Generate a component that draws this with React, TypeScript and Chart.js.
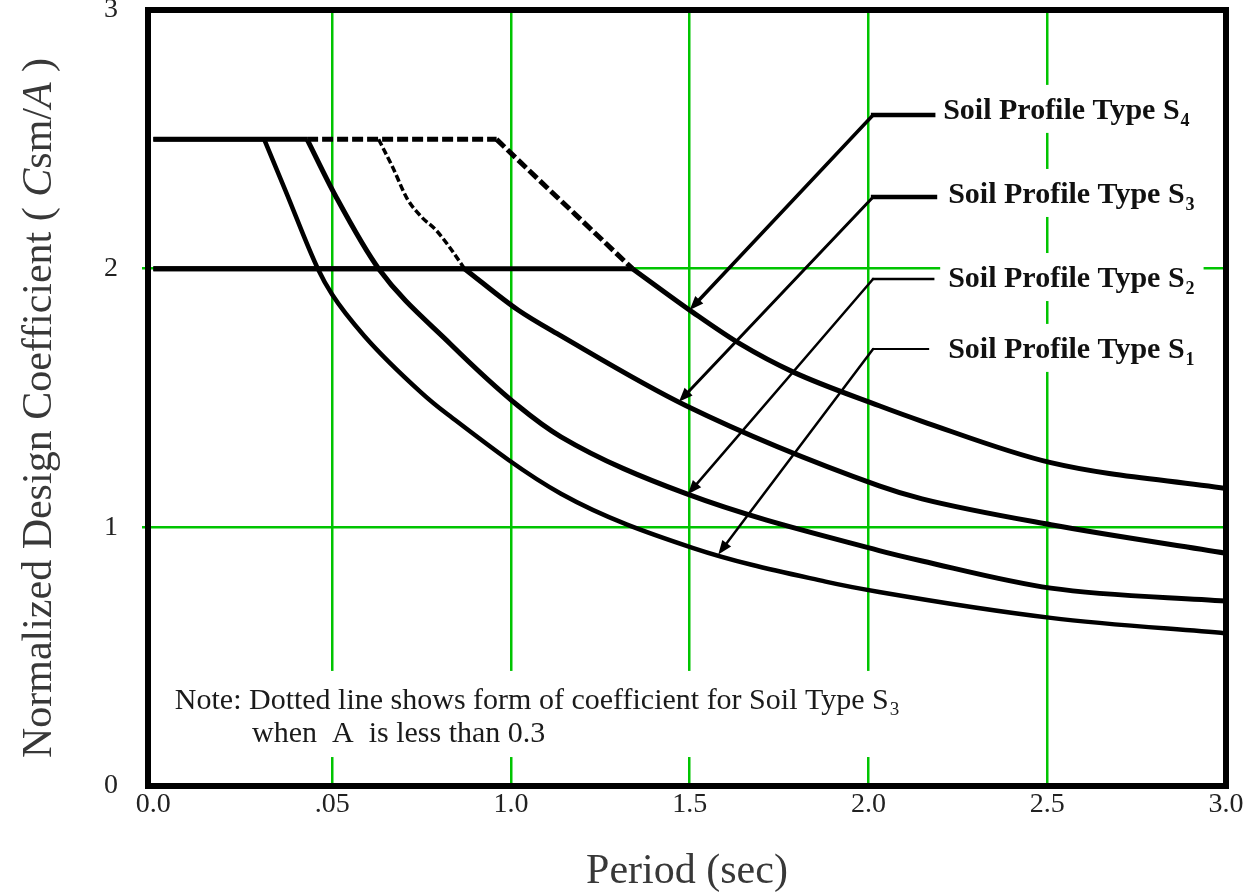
import React, { useEffect, useRef } from "react";
import { Chart, registerables } from "chart.js";

Chart.register(...registerables);

const SERIF = "'Liberation Serif', 'Times New Roman', Times, serif";
const GRID_GREEN = "#00c400";

// Axis ticks
const periodTicks = [0, 0.5, 1.0, 1.5, 2.0, 2.5, 3.0];
const periodTickLabels = ["0.0", ".05", "1.0", "1.5", "2.0", "2.5", "3.0"];
const coefTicks = [0, 1, 2, 3];

// Soil Profile Type S1
const periodS1 = [0, 0.31, 0.37, 0.46, 0.5, 0.59, 0.75, 0.82, 1.14, 1.51, 1.88, 2.03, 2.51, 3.0];
const coefS1 = [2.5, 2.5, 2.3, 2.0, 1.9, 1.74, 1.52, 1.44, 1.13, 0.92, 0.79, 0.75, 0.65, 0.59];

// Soil Profile Type S2
const periodS2 = [0, 0.43, 0.51, 0.63, 0.83, 1.02, 1.14, 1.49, 2.03, 2.15, 2.51, 3.0];
const coefS2 = [2.5, 2.5, 2.28, 2.0, 1.71, 1.47, 1.35, 1.13, 0.91, 0.87, 0.765, 0.715];

// Soil Profile Type S3 (capped at 2.0)
const periodS3 = [0, 0.87, 1.02, 1.14, 1.49, 2.03, 2.15, 2.51, 3.0];
const coefS3 = [2.0, 2.0, 1.84, 1.74, 1.47, 1.16, 1.11, 1.01, 0.9];

// Soil Profile Type S4 (capped at 2.0)
const periodS4 = [0, 1.34, 1.51, 1.64, 1.79, 2.03, 2.15, 2.51, 3.0];
const coefS4 = [2.0, 2.0, 1.83, 1.71, 1.6, 1.47, 1.41, 1.25, 1.15];

// Dotted forms (cap of 2.5 instead of 2.0)
const periodS3Dotted = [0.63, 0.67, 0.71, 0.75, 0.79, 0.83, 0.87];
const coefS3Dotted = [2.5, 2.39, 2.27, 2.2, 2.15, 2.08, 2.0];
const periodS4Dotted = [0.43, 0.96, 1.02, 1.18, 1.34];
const coefS4Dotted = [2.5, 2.5, 2.42, 2.21, 2.0];

const SOIL_LABEL = "Soil Profile Type S";

// Callout placement (data units): arrow tip period, leader corner, shelf end, text origin
const callouts = [
  { sub: "4", xs: periodS4, ys: coefS4, tip: 1.5, corner: [2.013, 2.594], shelfEnd: 2.181, text: [2.209, 2.579], diagW: 3.5, shelfW: 4.5 },
  { sub: "3", xs: periodS3, ys: coefS3, tip: 1.47, corner: [2.013, 2.277], shelfEnd: 2.186, text: [2.223, 2.254], diagW: 3, shelfW: 4.5 },
  { sub: "2", xs: periodS2, ys: coefS2, tip: 1.495, corner: [2.013, 1.96], shelfEnd: 2.181, text: [2.223, 1.929], diagW: 2.5, shelfW: 2.5 },
  { sub: "1", xs: periodS1, ys: coefS1, tip: 1.58, corner: [2.013, 1.689], shelfEnd: 2.167, text: [2.223, 1.655], diagW: 2.5, shelfW: 2 },
];

const noteLines = [
  { text: "Note: Dotted line shows form of coefficient for Soil Type S", sub: "3", at: [0.06, 0.298] },
  { text: "when  A  is less than 0.3", sub: "", at: [0.276, 0.17] },
];

const yTitleParts = [
  { t: "Normalized Design Coefficient ( ", italic: false },
  { t: "C", italic: true },
  { t: "sm/", italic: false },
  { t: "A", italic: true },
  { t: " )", italic: false },
];
const xTitle = "Period (sec)";

const pairs = (xs: number[], ys: number[]) => xs.map((x, i) => ({ x, y: ys[i] }));

function valueAt(xs: number[], ys: number[], x: number) {
  for (let i = 1; i < xs.length; i++) {
    if (x <= xs[i]) {
      const t = (x - xs[i - 1]) / (xs[i] - xs[i - 1]);
      return ys[i - 1] + t * (ys[i] - ys[i - 1]);
    }
  }
  return ys[ys.length - 1];
}

const overlayPlugin = {
  id: "designOverlay",
  afterDatasetsDraw(chart: any) {
    const { ctx } = chart;
    const sx = chart.scales.x;
    const sy = chart.scales.y;
    const px = (v: number) => sx.getPixelForValue(v);
    const py = (v: number) => sy.getPixelForValue(v);
    ctx.save();

    // Note block on a white plate
    const noteFont = `30px ${SERIF}`;
    const noteSub = `19px ${SERIF}`;
    ctx.font = noteFont;
    const n0 = noteLines[0];
    const n1 = noteLines[1];
    const w0 = ctx.measureText(n0.text).width;
    ctx.font = noteSub;
    const ws0 = ctx.measureText(n0.sub).width;
    const nx = px(n0.at[0]);
    const ny0 = py(n0.at[1]);
    const ny1 = py(n1.at[1]);
    ctx.fillStyle = "#fff";
    ctx.fillRect(nx - 8, ny0 - 38, w0 + ws0 + 20, ny1 - ny0 + 53);
    ctx.fillStyle = "#1a1a1a";
    ctx.textAlign = "left";
    ctx.textBaseline = "alphabetic";
    ctx.font = noteFont;
    ctx.fillText(n0.text, nx, ny0);
    ctx.fillText(n1.text, px(n1.at[0]), ny1);
    ctx.font = noteSub;
    ctx.fillText(n0.sub, nx + w0 + 1, ny0 + 6);

    // Callouts
    callouts.forEach((c) => {
      const tx = px(c.tip);
      const ty = py(valueAt(c.xs, c.ys, c.tip));
      const cx = px(c.corner[0]);
      const cy = py(c.corner[1]);
      const ex = px(c.shelfEnd);
      const lx = px(c.text[0]);
      const ly = py(c.text[1]);

      ctx.font = `bold 30px ${SERIF}`;
      const mainW = ctx.measureText(SOIL_LABEL).width;
      ctx.font = `bold 18px ${SERIF}`;
      const subW = ctx.measureText(c.sub).width;
      ctx.fillStyle = "#fff";
      ctx.fillRect(lx - 8, ly - 34, mainW + subW + 18, 48);

      ctx.strokeStyle = "#000";
      ctx.fillStyle = "#000";
      ctx.lineCap = "square";
      ctx.lineWidth = c.shelfW;
      ctx.beginPath();
      ctx.moveTo(cx, cy);
      ctx.lineTo(ex, cy);
      ctx.stroke();

      const dx = tx - cx;
      const dy = ty - cy;
      const len = Math.hypot(dx, dy);
      const ux = dx / len;
      const uy = dy / len;
      const head = 14;
      const half = 5.5;
      const bx = tx - ux * head;
      const by = ty - uy * head;
      ctx.lineCap = "round";
      ctx.lineWidth = c.diagW;
      ctx.beginPath();
      ctx.moveTo(cx, cy);
      ctx.lineTo(bx + ux * 2, by + uy * 2);
      ctx.stroke();
      ctx.beginPath();
      ctx.moveTo(tx, ty);
      ctx.lineTo(bx - uy * half, by + ux * half);
      ctx.lineTo(bx + uy * half, by - ux * half);
      ctx.closePath();
      ctx.fill();

      ctx.fillStyle = "#111";
      ctx.textAlign = "left";
      ctx.textBaseline = "alphabetic";
      ctx.font = `bold 30px ${SERIF}`;
      ctx.fillText(SOIL_LABEL, lx, ly);
      ctx.font = `bold 18px ${SERIF}`;
      ctx.fillText(c.sub, lx + mainW + 1, ly + 7);
    });
    ctx.restore();
  },
  afterDraw(chart: any) {
    const { ctx, chartArea } = chart;
    ctx.save();
    // Heavy frame around the plotting area
    ctx.strokeStyle = "#000";
    ctx.lineWidth = 6;
    ctx.lineJoin = "miter";
    ctx.strokeRect(chartArea.left, chartArea.top, chartArea.right - chartArea.left, chartArea.bottom - chartArea.top);

    // X axis title
    ctx.fillStyle = "#383838";
    ctx.textAlign = "center";
    ctx.textBaseline = "alphabetic";
    ctx.font = `42px ${SERIF}`;
    ctx.fillText(xTitle, (chartArea.left + chartArea.right) / 2, 883);

    // Y axis title with italic symbols
    const fontFor = (italic: boolean) => `${italic ? "italic " : ""}42px ${SERIF}`;
    let total = 0;
    const widths = yTitleParts.map((p) => {
      ctx.font = fontFor(p.italic);
      const w = ctx.measureText(p.t).width;
      total += w;
      return w;
    });
    ctx.translate(51, 408);
    ctx.rotate(-Math.PI / 2);
    ctx.textAlign = "left";
    let x = -total / 2;
    yTitleParts.forEach((p, i) => {
      ctx.font = fontFor(p.italic);
      ctx.fillText(p.t, x, 0);
      x += widths[i];
    });
    ctx.restore();
  },
};

export default function App() {
  const canvasRef = useRef<HTMLCanvasElement | null>(null);

  useEffect(() => {
    const canvas = canvasRef.current;
    if (!canvas) return;

    const line = (label: string, xs: number[], ys: number[], width: number, dash: number[] = []) => ({
      label,
      data: pairs(xs, ys),
      borderColor: "#000",
      borderWidth: width,
      borderDash: dash,
      pointRadius: 0,
      fill: false,
      cubicInterpolationMode: "monotone" as const,
      borderCapStyle: "butt" as const,
      borderJoinStyle: "miter" as const,
    });

    // Each curve is drawn as its flat cap (first two points) plus the
    // descending branch from the corner, so the corner stays sharp.
    const curve = (label: string, xs: number[], ys: number[], width: number, dash: number[] = [], capPts = 2) => [
      line(label + " cap", xs.slice(0, capPts), ys.slice(0, capPts), width, dash),
      line(label, xs.slice(capPts - 1), ys.slice(capPts - 1), width, dash),
    ];

    const chart = new Chart(canvas, {
      type: "line",
      data: {
        datasets: [
          ...curve("Soil Profile Type S1", periodS1, coefS1, 4.5),
          ...curve("Soil Profile Type S2", periodS2, coefS2, 5),
          ...curve("Soil Profile Type S3", periodS3, coefS3, 5),
          ...curve("Soil Profile Type S4", periodS4, coefS4, 5),
          line("Soil Type S3, A < 0.3", periodS3Dotted, coefS3Dotted, 3.5, [7, 3]),
          ...curve("Soil Type S4, A < 0.3", periodS4Dotted, coefS4Dotted, 5, [11, 4]),
        ],
      },
      options: {
        responsive: false,
        animation: false,
        devicePixelRatio: 1,
        events: [],
        layout: { padding: { top: 10, right: 30, left: 0, bottom: 0 } },
        plugins: {
          legend: { display: false },
          tooltip: { enabled: false },
          title: { display: false },
        },
        scales: {
          x: {
            type: "linear",
            min: -0.015,
            max: 3.0,
            afterBuildTicks: (s: any) => {
              s.ticks = periodTicks.map((v) => ({ value: v }));
            },
            afterFit: (s: any) => {
              s.height = 107;
              s.paddingLeft = 0;
              s.paddingRight = 0;
            },
            grid: {
              color: (c: any) => (c.tick && (c.tick.value === 0 || c.tick.value === 3) ? "rgba(0,0,0,0)" : GRID_GREEN),
              lineWidth: 2.5,
              drawTicks: false,
            },
            border: { display: false },
            ticks: {
              padding: 2,
              color: "#222",
              font: { family: SERIF, size: 28 },
              maxRotation: 0,
              autoSkip: false,
              callback: (v: any) => {
                const i = periodTicks.indexOf(Number(v));
                return i >= 0 ? periodTickLabels[i] : "";
              },
            },
          },
          y: {
            type: "linear",
            min: 0,
            max: 3,
            afterBuildTicks: (s: any) => {
              s.ticks = coefTicks.map((v) => ({ value: v }));
            },
            afterFit: (s: any) => {
              s.width = 148;
              s.paddingTop = 0;
              s.paddingBottom = 0;
            },
            grid: {
              color: (c: any) => (c.tick && (c.tick.value === 0 || c.tick.value === 3) ? "rgba(0,0,0,0)" : GRID_GREEN),
              tickColor: (c: any) => (c.tick && (c.tick.value === 0 || c.tick.value === 3) ? "rgba(0,0,0,0)" : GRID_GREEN),
              lineWidth: 2.5,
              tickWidth: 2.5,
              tickLength: 6,
            },
            border: { display: false },
            ticks: {
              padding: 24,
              color: "#222",
              font: { family: SERIF, size: 28 },
              callback: (v: any) => String(v),
            },
          },
        },
      },
      plugins: [overlayPlugin],
    });

    return () => chart.destroy();
  }, []);

  return (
    <div style={{ position: "fixed", left: 0, top: 0, width: 1256, height: 893, background: "#fff" }}>
      <canvas ref={canvasRef} width={1256} height={893} style={{ display: "block", width: 1256, height: 893 }} />
    </div>
  );
}
